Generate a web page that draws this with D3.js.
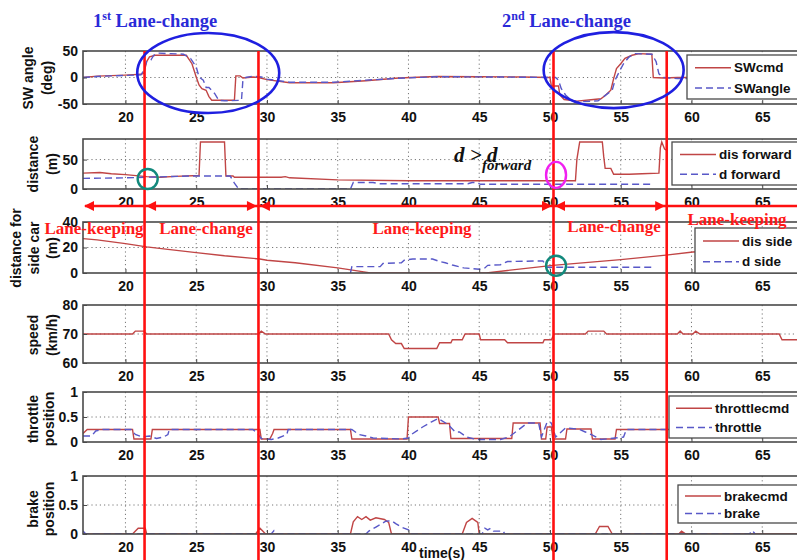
<!DOCTYPE html>
<html>
<head>
<meta charset="utf-8">
<script src="https://cdn.jsdelivr.net/npm/d3@7"></script>
<style>
body { margin: 0; background: #fff; }
svg { display: block; }
</style>
</head>
<body>
<div id="chart"></div>
<script>
// time axis
const xTicks = [20, 25, 30, 35, 40, 45, 50, 55, 60, 65];
// phase boundaries (s)
const events = [21.35, 29.4, 50.25, 58.25];

// steering wheel angle (deg)
const swCmd = [[17,0],[18,2.5],[20,4.4],[21.1,6],[21.3,8],[21.5,30],[21.7,39],[22.1,42],[24.3,42],[24.7,26],[25,1],[25.2,-14],[25.4,-21],[25.7,-24],[25.9,-36],[26.1,-43],[27.7,-43],[27.8,3],[28.1,3],[28.3,-1],[29,1],[29.4,0],[30,-4],[31.6,-10],[34.7,-10],[37,-6],[39.3,-1],[42,2],[45,1.5],[48,1],[50,0],[50.1,-16],[50.6,-16],[50.7,-33],[51,-41.5],[51.9,-44.5],[52.9,-42],[53.6,-40],[53.9,-34],[54.3,-24],[54.5,-2],[54.7,17],[55,26],[55.3,36],[55.8,42],[56.3,45],[57.2,44],[57.3,0],[58,-1],[59,0],[67.5,0]];
const swAngle = [[17,0],[18,2],[20,4],[21.1,5],[21.3,14],[21.5,30],[21.8,33],[22,42],[22.3,46],[23.2,45],[24.1,44],[24.6,36],[25,20],[25.2,1],[25.5,-5],[25.7,-19],[25.9,-19],[26.3,-30],[26.6,-43],[27,-44],[28.2,-43],[28.3,-5],[28.5,0],[29,2.5],[29.6,1],[30,-3],[31.6,-9],[34.7,-9],[37,-5],[39.3,-1.5],[42,1.5],[46,1],[50,0],[50.4,0],[50.6,-5],[50.8,-21],[51.1,-33],[51.5,-43],[52,-46],[53.4,-44],[54.4,-24],[54.6,-5],[54.9,11],[55.2,26],[55.6,39],[56,45],[57.2,44],[57.5,30],[57.7,7],[58,0],[59,-2],[67.5,-1]];

// distance to forward car (m)
const disForward = [[17,27],[18.2,28],[19,26],[20,24.5],[21.5,21],[22.5,20],[23.5,21.5],[25.2,23],[25.3,80],[27,80],[27.1,22],[27.6,22],[27.7,20],[31,20],[31.3,21],[31.6,19],[35,15.5],[40,14],[45,14],[50,14],[51.8,14],[51.9,50],[52.1,80],[53.7,80],[53.8,55],[53.9,35],[54.3,35],[54.5,25],[55.6,25],[56.5,26],[57.7,27],[57.8,70],[57.9,80],[58.1,68],[58.3,65]];
const dForward = [[17,18],[20,19],[21.5,20],[23,21],[24.5,22],[27.4,22],[27.7,10],[28,0],[35.9,0],[36.1,11],[37.5,11],[38,9],[44.2,9],[44.5,11],[44.8,11],[45.1,8],[50,8],[57.3,8]];

// distance to side car (m)
const disSide = [[17,27],[18,26],[20,23],[21.5,20.5],[23,18.5],[25,16],[27,13.5],[29.5,11],[30,10],[32,8],[35,4],[36.5,1.5],[37.3,0],[45.5,0],[47,2],[50.2,6],[55,10.5],[58.2,14],[60.1,16.5],[67.5,20]];
const dSide = [[35.9,0],[36,5],[38,5],[38.2,7.5],[39.5,8],[39.7,10],[40.3,11],[41.7,11],[42.2,9],[42.6,8],[43.1,6.3],[43.9,4],[45,3],[45.4,4],[45.6,6],[46.5,6.5],[47,9],[49.5,9.5],[49.8,4.5],[57.3,4.5]];

// speed (km/h)
const speed = [[17,70],[20.5,70],[20.7,71],[21.3,71],[21.5,70],[29.4,70],[29.6,71],[29.9,70],[38.6,70],[38.8,68],[39.1,66.7],[39.5,66.7],[39.7,65],[42,65],[42.2,67],[43,67],[43.1,68],[43.8,68],[44,70],[45,70],[45.1,68],[46.8,68],[47,67],[49.5,67],[49.6,68],[50.1,68],[50.3,70],[52.5,70],[52.7,71],[53.8,71],[54,70],[59,70],[59.2,71],[59.4,70],[60.1,70],[60.3,71],[60.6,70],[66.2,70],[66.4,68],[67.5,68]];

// throttle position
const throttleCmd = [[17,0.17],[17.3,0.25],[20.5,0.25],[20.6,0.06],[21.8,0.06],[21.9,0.25],[29.5,0.25],[29.6,0.06],[30.2,0.06],[30.4,0.17],[30.5,0.25],[35.9,0.25],[36,0.06],[39.9,0.06],[40,0.5],[42.1,0.5],[42.2,0.37],[42.9,0.37],[43,0.07],[47.3,0.07],[47.4,0.38],[49.3,0.38],[49.4,0.06],[49.7,0.06],[49.8,0.3],[50.1,0.3],[50.2,0.06],[51.1,0.06],[51.2,0.26],[52.9,0.26],[53,0.06],[54.6,0.06],[54.7,0.25],[67.5,0.25]];
const throttle = [[17,0.12],[17.6,0.12],[17.9,0.22],[18.4,0.25],[20.4,0.25],[20.7,0.15],[21.2,0.1],[21.7,0.12],[22.2,0.07],[22.7,0.1],[23,0.15],[23.1,0.25],[29,0.25],[29.3,0.18],[29.6,0.07],[30.3,0.05],[30.8,0.08],[31.4,0.15],[31.5,0.25],[36,0.25],[36.5,0.15],[37,0.12],[37.5,0.08],[38.5,0.07],[39.5,0.06],[40,0.08],[40.2,0.15],[41,0.3],[41.6,0.4],[42.1,0.47],[42.8,0.35],[43.3,0.2],[43.6,0.2],[44.1,0.1],[44.8,0.05],[46.5,0.05],[47.1,0.1],[47.8,0.25],[48.4,0.38],[49.2,0.38],[49.4,0.1],[49.8,0.4],[50.1,0.38],[50.4,0.1],[51.1,0.28],[52,0.26],[52.5,0.2],[52.9,0.15],[53.6,0.05],[54.6,0.08],[55.2,0.1],[55.4,0.25],[67.5,0.25]];

// brake position
const brakeCmd = [[17,0],[20.5,0],[20.9,0.1],[21.4,0.1],[21.5,0],[29.2,0],[29.5,0.1],[29.7,0.05],[29.9,0],[35.9,0],[36.1,0.21],[36.4,0.3],[36.7,0.25],[37,0.3],[37.3,0.24],[37.7,0.28],[38.3,0.25],[38.6,0.2],[38.8,0],[43.8,0],[44.1,0.2],[44.5,0.27],[44.9,0.2],[45,0],[53.2,0],[53.5,0.13],[54.1,0.13],[54.4,0],[59.1,0],[59.3,0.05],[59.6,0],[67.5,0]];
const brake = [[17,0.05],[17.2,0],[30.3,0],[30.5,0.06],[30.7,0],[37,0],[37.2,0.05],[37.7,0.12],[38.4,0.22],[38.8,0.23],[39.1,0.18],[39.5,0.12],[40,0.07],[40.2,0],[45.2,0],[45.4,0.1],[45.6,0.07],[45.8,0.1],[46,0.05],[46.7,0.05],[46.8,0],[64.1,0],[64.3,0.06],[64.5,0]];

const RED = "#c04545", BLUE = "#5858c8";
const W = 797, H = 560;

const x = d3.scaleLinear().domain([17, 67.5]).range([83, 797.6]);

const panels = [
	{top: 51, bottom: 104, domain: [-50, 50], ticks: [-50, 0, 50],
	 label: ["SW angle", "(deg)"], labelX: [28, 47], labelY: 78,
	 lines: [[swCmd, RED, false], [swAngle, BLUE, true]],
	 legend: {x: 687, y: 55, h: 44, sx: 695, items: ["SWcmd", "SWangle"]}},
	{top: 139, bottom: 189, domain: [0, 85], ticks: [0, 50],
	 label: ["distance", "(m)"], labelX: [33, 52], labelY: 164,
	 lines: [[disForward, RED, false], [dForward, BLUE, true]],
	 legend: {x: 672, y: 142, h: 43, sx: 680, items: ["dis forward", "d forward"]}},
	{top: 222, bottom: 273, domain: [0, 40], ticks: [0, 20, 40],
	 label: ["distance for", "side car", "(m)"], labelX: [16, 34, 52], labelY: 248,
	 lines: [[disSide, RED, false], [dSide, BLUE, true]],
	 legend: {x: 695, y: 228, h: 45, sx: 703, items: ["dis side", "d side"]}},
	{top: 305, bottom: 363, domain: [60, 80], ticks: [60, 70, 80],
	 label: ["speed", "(km/h)"], labelX: [33, 52], labelY: 335,
	 lines: [[speed, RED, false]]},
	{top: 392, bottom: 442, domain: [0, 1], ticks: [0, 0.5, 1],
	 label: ["throttle", "position"], labelX: [33, 49], labelY: 419,
	 lines: [[throttleCmd, RED, false], [throttle, BLUE, true]],
	 legend: {x: 669, y: 396, h: 42, sx: 676, items: ["throttlecmd", "throttle"]}},
	{top: 476, bottom: 534, domain: [0, 1], ticks: [0, 0.5, 1],
	 label: ["brake", "position"], labelX: [33, 49], labelY: 509,
	 lines: [[brakeCmd, RED, false], [brake, BLUE, true]],
	 legend: {x: 678, y: 485, h: 38, sx: 685, items: ["brakecmd", "brake"]}}
];

const svg = d3.select("#chart").append("svg")
	.attr("width", W)
	.attr("height", H)
	.style("font-family", "Arial, 'Liberation Sans', sans-serif");

const left = x.range()[0], right = x.range()[1];

panels.forEach(function(p, i) {
	const y = d3.scaleLinear().domain(p.domain).range([p.bottom, p.top]);
	const g = svg.append("g");

	svg.append("clipPath").attr("id", "clip" + i)
		.append("rect").attr("x", left).attr("y", p.top)
		.attr("width", right - left).attr("height", p.bottom - p.top);

	g.append("rect")
		.attr("x", left).attr("y", p.top)
		.attr("width", right - left).attr("height", p.bottom - p.top)
		.attr("fill", "#fff");

	// dotted grid
	g.selectAll("line.gx").data(xTicks).enter().append("line")
		.attr("x1", d => x(d)).attr("x2", d => x(d))
		.attr("y1", p.top).attr("y2", p.bottom)
		.attr("stroke", "#777").attr("stroke-width", 1)
		.attr("stroke-dasharray", "1.2,3");
	g.selectAll("line.gy").data(p.ticks.filter(t => t != p.domain[0] && t != p.domain[1])).enter().append("line")
		.attr("x1", left).attr("x2", right)
		.attr("y1", d => y(d)).attr("y2", d => y(d))
		.attr("stroke", "#777").attr("stroke-width", 1)
		.attr("stroke-dasharray", "1.2,3");

	const line = d3.line().x(d => x(d[0])).y(d => y(d[1]));
	p.lines.forEach(function(s) {
		g.append("path")
			.attr("clip-path", "url(#clip" + i + ")")
			.attr("d", line(s[0]))
			.attr("fill", "none")
			.attr("stroke", s[1])
			.attr("stroke-width", 1.4)
			.attr("stroke-dasharray", s[2] ? "7,4" : null);
	});

	// frame on top of the data
	g.append("rect")
		.attr("x", left).attr("y", p.top)
		.attr("width", right - left + 10).attr("height", p.bottom - p.top)
		.attr("fill", "none").attr("stroke", "#4a4a4a").attr("stroke-width", 1.6);

	const xAxis = g.append("g")
		.attr("transform", `translate(0,${p.bottom})`)
		.call(d3.axisBottom(x).tickValues(xTicks).tickSize(-4).tickPadding(8).tickFormat(d => String(d)));
	const yAxis = g.append("g")
		.attr("transform", `translate(${left},0)`)
		.call(d3.axisLeft(y).tickValues(p.ticks).tickSize(-4).tickPadding(5).tickFormat(d => String(d)));
	[xAxis, yAxis].forEach(function(a) {
		a.select(".domain").remove();
		a.selectAll(".tick line").attr("stroke", "#4a4a4a");
		a.selectAll("text").attr("fill", "#111")
			.attr("font-size", "14px").attr("font-weight", "bold")
			.attr("font-family", "Arial, 'Liberation Sans', sans-serif");
	});

	// y label
	p.label.forEach(function(t, k) {
		svg.append("text")
			.attr("transform", `translate(${p.labelX[k]},${p.labelY}) rotate(-90)`)
			.attr("text-anchor", "middle")
			.attr("dy", "0.35em")
			.attr("font-size", "14px").attr("font-weight", "bold")
			.attr("fill", "#111")
			.text(t);
	});

	// legend
	if (p.legend) {
		const L = p.legend;
		const lg = svg.append("g");
		lg.append("rect")
			.attr("x", L.x).attr("y", L.y)
			.attr("width", W + 10 - L.x).attr("height", L.h)
			.attr("fill", "#fff").attr("stroke", "#4a4a4a").attr("stroke-width", 1.3);
		L.items.forEach(function(name, k) {
			const yy = L.y + L.h * (k === 0 ? 0.29 : 0.75);
			const s = p.lines[k];
			lg.append("line")
				.attr("x1", L.sx).attr("x2", L.sx + 36)
				.attr("y1", yy).attr("y2", yy)
				.attr("stroke", s[1]).attr("stroke-width", 1.4)
				.attr("stroke-dasharray", s[2] ? "7,4" : null);
			lg.append("text")
				.attr("x", L.sx + 39).attr("y", yy).attr("dy", "0.35em")
				.attr("font-size", "13.5px").attr("font-weight", "bold")
				.attr("fill", "#111")
				.text(name);
		});
	}
});

svg.append("text")
	.attr("x", 442).attr("y", 558)
	.attr("text-anchor", "middle")
	.attr("font-size", "14px").attr("font-weight", "bold")
	.attr("fill", "#111")
	.text("time(s)");

// phase boundaries
svg.selectAll("line.event").data(events).enter().append("line")
	.attr("x1", d => x(d)).attr("x2", d => x(d))
	.attr("y1", 51).attr("y2", H)
	.attr("stroke", "#ff1010").attr("stroke-width", 2.6);

// phase arrow row
const arrowY = 206;
svg.append("line")
	.attr("x1", left + 2).attr("x2", W)
	.attr("y1", arrowY).attr("y2", arrowY)
	.attr("stroke", "#ff1010").attr("stroke-width", 2.4);

const heads = [
	[x.domain()[0], -1],
	[events[0], -1],
	[events[1], 1], [events[1], -1],
	[events[2], 1], [events[2], -1],
	[events[3], 1]
];
svg.selectAll("path.head").data(heads).enter().append("path")
	.attr("d", function(d) {
		const tip = x(d[0]) + (d[0] === x.domain()[0] ? 1 : (d[1] > 0 ? -1.5 : 1.5));
		const base = tip - d[1] * 10;
		return `M${tip},${arrowY} L${base},${arrowY - 5} L${base},${arrowY + 5} Z`;
	})
	.attr("fill", "#ff1010");

// phase names
const phases = [
	["Lane-keeping", 17.78, 234],
	["Lane-change", 25.69, 234],
	["Lane-keeping", 40.96, 234],
	["Lane-change", 54.53, 232],
	["Lane-keeping", 63.22, 225]
];
svg.selectAll("text.phase").data(phases).enter().append("text")
	.attr("x", d => x(d[1])).attr("y", d => d[2])
	.attr("text-anchor", "middle")
	.attr("font-family", "'Liberation Serif', 'Times New Roman', serif")
	.attr("font-size", "17px").attr("font-weight", "bold")
	.attr("fill", "#ff1a1a")
	.text(d => d[0]);

// lane-change titles
const titles = [["1", "st", 93], ["2", "nd", 502]];
titles.forEach(function(t) {
	const tx = svg.append("text")
		.attr("x", t[2]).attr("y", 27)
		.attr("font-family", "'Liberation Serif', 'Times New Roman', serif")
		.attr("font-weight", "bold").attr("font-size", "18.5px")
		.attr("fill", "#2a2ad8");
	tx.append("tspan").text(t[0]);
	tx.append("tspan").attr("font-size", "12px").attr("dy", -7).text(t[1]);
	tx.append("tspan").attr("dy", 7).text(" Lane-change");
});

// highlight ellipses around the steering manoeuvres
const ySW = d3.scaleLinear().domain([-50, 50]).range([104, 51]);
[[25.85, 8.5, 71, 40], [54.5, 14, 70, 38]].forEach(function(e) {
	svg.append("ellipse")
		.attr("cx", x(e[0])).attr("cy", ySW(e[1]))
		.attr("rx", e[2]).attr("ry", e[3])
		.attr("fill", "none").attr("stroke", "#1f1fe0").attr("stroke-width", 2.6);
});

const yDist = d3.scaleLinear().domain([0, 85]).range([189, 139]);
const ySide = d3.scaleLinear().domain([0, 40]).range([273, 222]);
svg.append("circle")
	.attr("cx", x(21.57)).attr("cy", yDist(17)).attr("r", 10)
	.attr("fill", "none").attr("stroke", "#12897c").attr("stroke-width", 2.4);
svg.append("circle")
	.attr("cx", x(50.43)).attr("cy", ySide(5.7)).attr("r", 10)
	.attr("fill", "none").attr("stroke", "#12897c").attr("stroke-width", 2.4);
svg.append("ellipse")
	.attr("cx", x(50.43)).attr("cy", yDist(24)).attr("rx", 10).attr("ry", 13)
	.attr("fill", "none").attr("stroke", "#f020f0").attr("stroke-width", 2.4);

// d > d_forward
svg.append("text")
	.attr("x", 454).attr("y", 162)
	.attr("font-family", "'Liberation Serif', 'Times New Roman', serif")
	.attr("font-style", "italic").attr("font-weight", "bold")
	.attr("font-size", "21px").attr("fill", "#111")
	.text("d > d");
svg.append("text")
	.attr("x", 482).attr("y", 170)
	.attr("font-family", "'Liberation Serif', 'Times New Roman', serif")
	.attr("font-style", "italic").attr("font-weight", "bold")
	.attr("font-size", "15px").attr("fill", "#111")
	.text("forward");
</script>
</body>
</html>
